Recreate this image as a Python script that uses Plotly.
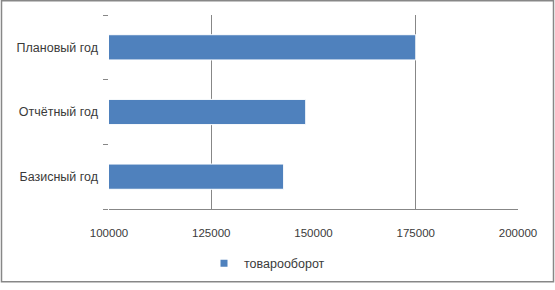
import plotly.graph_objects as go

categories = ["Базисный год", "Отчётный год", "Плановый год"]
values = [142700, 148100, 175000]
series_name = "товарооборот"
x_ticks = [100000, 125000, 150000, 175000, 200000]
x_tick_labels = ["100000", "125000", "150000", "175000", "200000"]

BAR = "#4F81BD"
AX = "#878787"
TXT = "#3a3a3a"
FONT = "Liberation Sans, Arial, sans-serif"

W, H = 555, 290
ML, MR, MT, MB = 109, 37, 15, 76
PW, PH = W - ML - MR, H - MT - MB

def px_x(p):
    return (p - ML) / PW

def px_y(p):
    return (H - MB - p) / PH

fig = go.Figure()
fig.add_trace(go.Bar(
    y=categories, x=values, orientation="h",
    marker=dict(color=BAR, line=dict(color="white", width=1)),
    width=0.39, showlegend=False, name=series_name,
))
fig.add_trace(go.Scatter(
    x=[None], y=[None], mode="markers", name=series_name,
    marker=dict(symbol="square", size=7, color=BAR), showlegend=True,
))

fig.update_layout(
    width=W, height=H,
    margin=dict(l=ML, r=MR, t=MT, b=MB, pad=0),
    paper_bgcolor="white", plot_bgcolor="white",
    font=dict(family=FONT, size=11.5, color=TXT),
    showlegend=True,
    legend=dict(orientation="h", x=px_x(204), y=px_y(270), xanchor="left", yanchor="middle",
                font=dict(family=FONT, size=12.5, color=TXT), bgcolor="rgba(0,0,0,0)",
                borderwidth=0),
    shapes=[dict(type="rect", xref="paper", yref="paper",
                 x0=px_x(1.5), x1=px_x(553.5), y0=px_y(288.5), y1=px_y(0.5),
                 line=dict(color=AX, width=1.5), layer="below")],
)
fig.update_xaxes(
    range=[100000, 200000], tickvals=x_ticks, ticktext=x_tick_labels,
    showgrid=False, showline=True, linecolor=AX, linewidth=1,
    ticks="", ticklabelstandoff=13, zeroline=False,
    tickfont=dict(size=11.5),
    minor=dict(tick0=125000, dtick=50000, showgrid=True, gridcolor=AX, gridwidth=1, ticks=""),
)
fig.update_yaxes(
    type="category", categoryorder="array", categoryarray=categories,
    tickson="boundaries", ticks="outside", ticklen=5, tickcolor=AX, tickwidth=1,
    showgrid=False, showline=False, zeroline=False, ticklabelstandoff=10,
    tickfont=dict(size=12.5),
)

fig.write_html("out.html")
